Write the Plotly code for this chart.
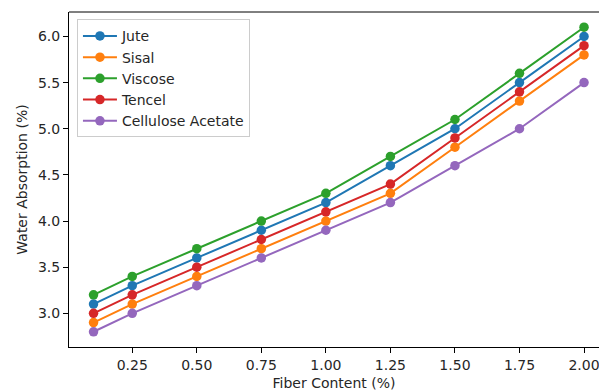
import plotly.graph_objects as go

fiber_content = [0.1, 0.25, 0.5, 0.75, 1.0, 1.25, 1.5, 1.75, 2.0]
jute = [3.1, 3.3, 3.6, 3.9, 4.2, 4.6, 5.0, 5.5, 6.0]
sisal = [2.9, 3.1, 3.4, 3.7, 4.0, 4.3, 4.8, 5.3, 5.8]
viscose = [3.2, 3.4, 3.7, 4.0, 4.3, 4.7, 5.1, 5.6, 6.1]
tencel = [3.0, 3.2, 3.5, 3.8, 4.1, 4.4, 4.9, 5.4, 5.9]
cellulose_acetate = [2.8, 3.0, 3.3, 3.6, 3.9, 4.2, 4.6, 5.0, 5.5]

series_names = ["Jute", "Sisal", "Viscose", "Tencel", "Cellulose Acetate"]
series_values = [jute, sisal, viscose, tencel, cellulose_acetate]
colors = ["#1f77b4", "#ff7f0e", "#2ca02c", "#d62728", "#9467bd"]

x_ticks = [0.25, 0.5, 0.75, 1.0, 1.25, 1.5, 1.75, 2.0]
y_ticks = [3.0, 3.5, 4.0, 4.5, 5.0, 5.5, 6.0]

fig = go.Figure()
for name, vals, c in zip(series_names, series_values, colors):
    fig.add_trace(go.Scatter(
        x=fiber_content, y=vals, name=name, mode="lines+markers",
        line=dict(color=c, width=2), marker=dict(color=c, size=9.5),
    ))

font_family = "DejaVu Sans"
fig.update_layout(
    width=599, height=392,
    margin=dict(l=69, r=0, t=11.5, b=45),
    plot_bgcolor="white", paper_bgcolor="white",
    font=dict(family=font_family, size=14, color="#262626"),
    showlegend=True,
    legend=dict(
        x=0.015, y=0.978, xanchor="left", yanchor="top",
        bgcolor="rgba(255,255,255,0.8)", bordercolor="#cccccc", borderwidth=1,
        font=dict(size=14, color="#262626"), itemwidth=34,
    ),
    xaxis=dict(
        range=[0.005, 2.058], tickvals=x_ticks, tickformat=".2f",
        showgrid=False, zeroline=False, showline=True, linecolor="black", linewidth=1,
        ticks="outside", ticklen=5, tickcolor="black", mirror=False, automargin=False,
        ticklabeloverflow="allow",
        title=dict(text="Fiber Content (%)", standoff=6, font=dict(size=14)),
    ),
    yaxis=dict(
        range=[2.635, 6.265], tickvals=y_ticks, tickformat=".1f",
        showgrid=False, zeroline=False, showline=True, linecolor="black", linewidth=1,
        ticks="outside", ticklen=5, tickcolor="black", mirror=False, automargin=False,
        title=dict(text="Water Absorption (%)", standoff=7, font=dict(size=14)),
    ),
)
fig.add_shape(type="line", xref="paper", yref="paper", x0=0, x1=1, y0=1, y1=1,
              line=dict(color="black", width=1))

fig.write_html("out.html", config={"displayModeBar": False},
               post_script="document.body.style.margin='0';")
